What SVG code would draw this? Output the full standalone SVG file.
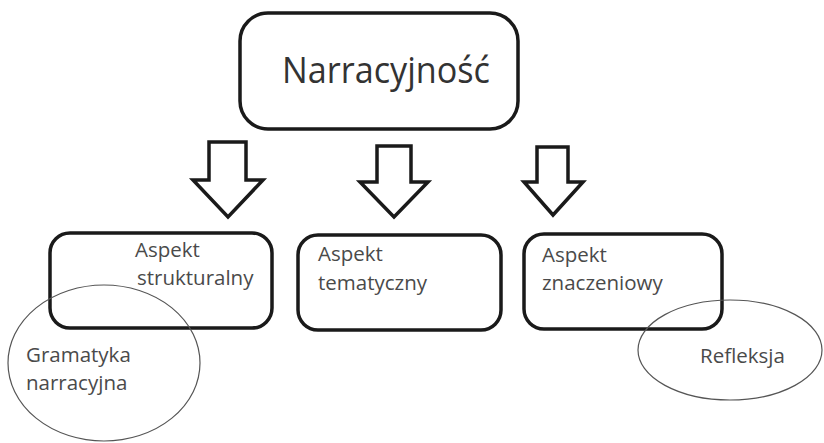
<svg xmlns="http://www.w3.org/2000/svg" width="824" height="443" viewBox="0 0 824 443">
<style>
.box{fill:#fff;stroke:#1a1a1a;stroke-width:3.5}
.ell{fill:none;stroke:#555;stroke-width:1.2}
.arr{fill:#fff;stroke:#1a1a1a;stroke-width:3.5;stroke-linejoin:miter}
.t{font-family:"Open Sans","Noto Sans",sans-serif;font-size:20.5px;fill:#4a4a4a}
.title{font-family:"Open Sans","Noto Sans",sans-serif;font-size:37px;fill:#333}
</style>
<rect width="824" height="443" fill="#fff"/>
<g id="n-root">
<rect class="box" x="240" y="13" width="278" height="116" rx="28"/>
<text class="title" x="282" y="83" textLength="208" lengthAdjust="spacingAndGlyphs">Narracyjność</text>
</g>
<g id="connectors">
<polygon class="arr" points="209,142 246,142 246,180 263,180 228,217 193,180 209,180"/>
<polygon class="arr" points="377,146 411,146 411,182 428,182 394,217 360,182 377,182"/>
<polygon class="arr" points="537,147 568,147 568,182 583,182 553,215 524,182 537,182"/>
</g>
<g id="n-struct">
<rect class="box" x="50" y="233" width="222" height="95" rx="20"/>
<text class="t" x="135" y="257">Aspekt</text>
<text class="t" x="137" y="285">strukturalny</text>
</g>
<g id="n-tem">
<rect class="box" x="298" y="235" width="203" height="95" rx="20"/>
<text class="t" x="318" y="261">Aspekt</text>
<text class="t" x="318" y="290">tematyczny</text>
</g>
<g id="n-znacz">
<rect class="box" x="524" y="234" width="198" height="95" rx="20"/>
<text class="t" x="542" y="262">Aspekt</text>
<text class="t" x="542" y="290">znaczeniowy</text>
</g>
<g id="n-gram">
<ellipse class="ell" cx="104" cy="363" rx="96" ry="78"/>
<text class="t" x="26" y="362">Gramatyka</text>
<text class="t" x="26" y="390">narracyjna</text>
</g>
<g id="n-refl">
<ellipse class="ell" cx="730" cy="350" rx="92" ry="50"/>
<text class="t" x="700" y="363">Refleksja</text>
</g>
</svg>
